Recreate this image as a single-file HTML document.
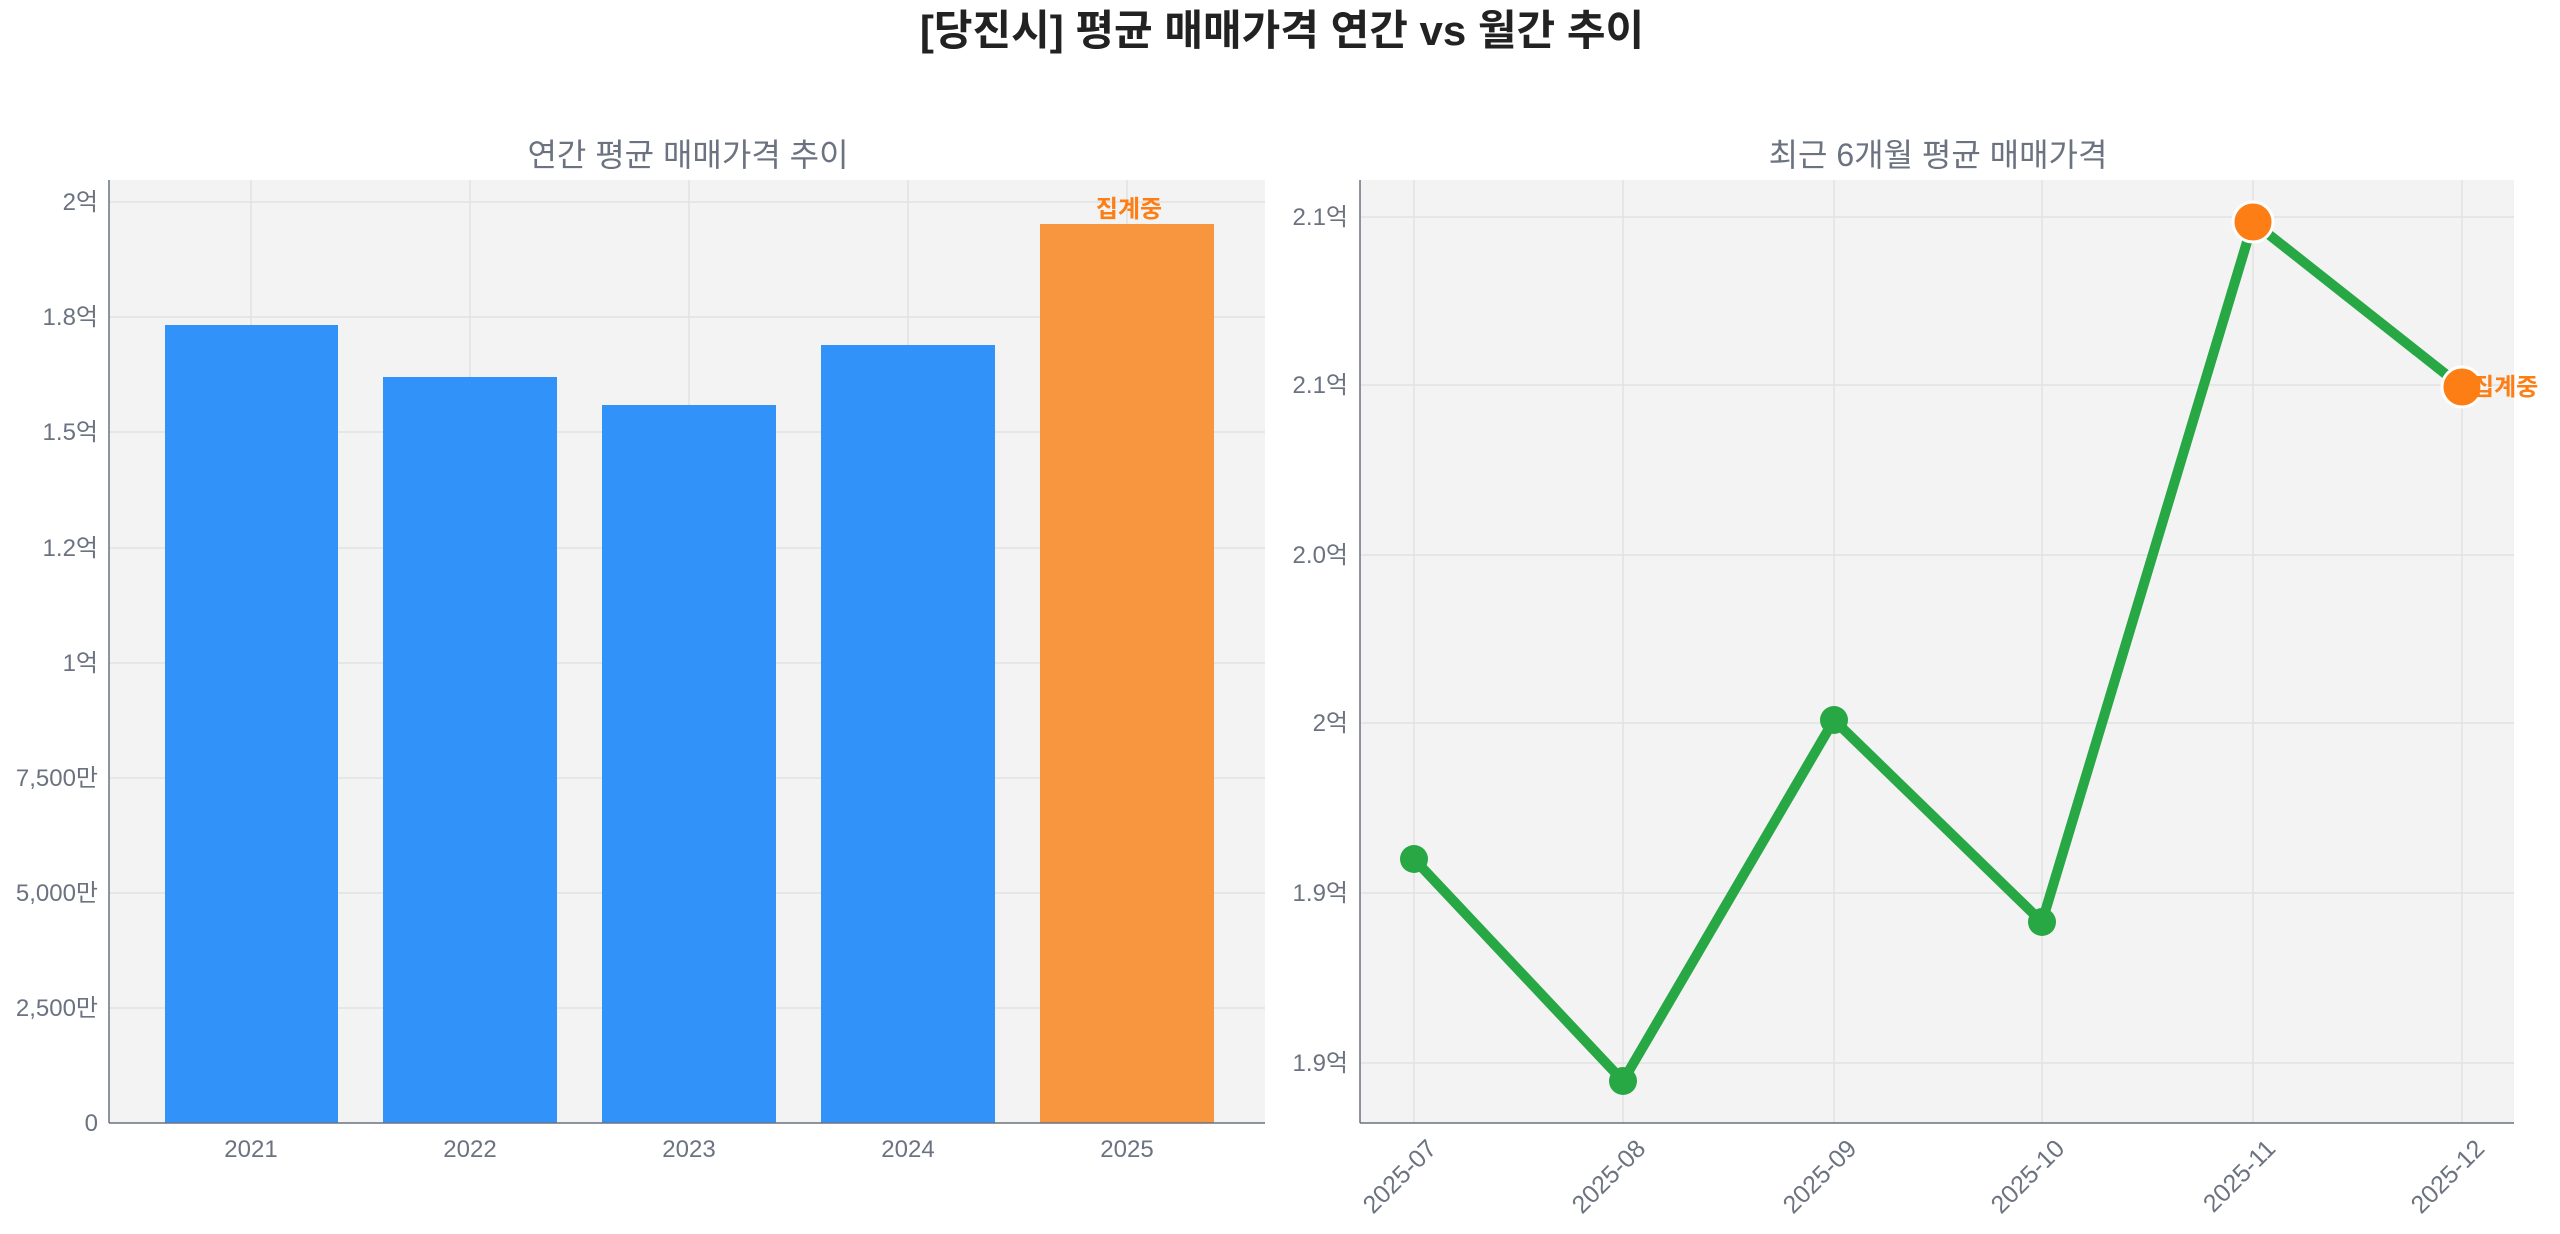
<!DOCTYPE html>
<html><head><meta charset="utf-8"><style>
html,body{margin:0;padding:0;background:#fff;}
svg{display:block;font-family:"Liberation Sans","Noto Sans CJK KR",sans-serif;}
</style></head><body>
<svg width="2560" height="1234" viewBox="0 0 2560 1234" xmlns="http://www.w3.org/2000/svg">
<text x="1282" y="45" text-anchor="middle" font-size="42" font-weight="bold" fill="#222">[당진시] 평균 매매가격 연간 vs 월간 추이</text>
<!-- Left panel -->
<text x="688" y="166" text-anchor="middle" font-size="32" fill="#6b7280">연간 평균 매매가격 추이</text>
<rect x="109" y="180" width="1156" height="943" fill="#f3f3f3"/>
<g stroke="#e2e2e2" stroke-width="1.5">
<line x1="109" x2="1265" y1="1008" y2="1008"/><line x1="109" x2="1265" y1="893" y2="893"/>
<line x1="109" x2="1265" y1="778" y2="778"/><line x1="109" x2="1265" y1="663" y2="663"/>
<line x1="109" x2="1265" y1="548" y2="548"/><line x1="109" x2="1265" y1="432" y2="432"/>
<line x1="109" x2="1265" y1="317" y2="317"/><line x1="109" x2="1265" y1="202" y2="202"/>
<line y1="180" y2="1123" x1="251" x2="251"/><line y1="180" y2="1123" x1="470" x2="470"/>
<line y1="180" y2="1123" x1="689" x2="689"/><line y1="180" y2="1123" x1="908" x2="908"/>
<line y1="180" y2="1123" x1="1127" x2="1127"/>
</g>
<g fill="#3193fa">
<rect x="165" y="325" width="173" height="798"/>
<rect x="383" y="377" width="174" height="746"/>
<rect x="602" y="405" width="174" height="718"/>
<rect x="821" y="345" width="174" height="778"/>
</g>
<rect x="1040" y="224" width="174" height="899" fill="#f8963f"/>
<text x="1129" y="217" text-anchor="middle" font-size="24" font-weight="bold" fill="#fd7e14">집계중</text>
<g stroke="#6b7280" stroke-width="1.5"><line x1="109" y1="180" x2="109" y2="1123"/><line x1="109" y1="1123" x2="1265" y2="1123"/></g>
<g font-size="24" fill="#6b7280" text-anchor="end">
<text x="98" y="1131">0</text><text x="98" y="1016">2,500만</text><text x="98" y="901">5,000만</text>
<text x="98" y="786">7,500만</text><text x="98" y="671">1억</text><text x="98" y="556">1.2억</text>
<text x="98" y="440">1.5억</text><text x="98" y="325">1.8억</text><text x="98" y="210">2억</text>
</g>
<g font-size="24" fill="#6b7280" text-anchor="middle">
<text x="251" y="1157">2021</text><text x="470" y="1157">2022</text><text x="689" y="1157">2023</text>
<text x="908" y="1157">2024</text><text x="1127" y="1157">2025</text>
</g>
<!-- Right panel -->
<text x="1938" y="166" text-anchor="middle" font-size="32" fill="#6b7280">최근 6개월 평균 매매가격</text>
<rect x="1360" y="180" width="1154" height="943" fill="#f3f3f3"/>
<g stroke="#e2e2e2" stroke-width="1.5">
<line x1="1360" x2="2514" y1="217" y2="217"/><line x1="1360" x2="2514" y1="385" y2="385"/>
<line x1="1360" x2="2514" y1="555" y2="555"/><line x1="1360" x2="2514" y1="723" y2="723"/>
<line x1="1360" x2="2514" y1="893" y2="893"/><line x1="1360" x2="2514" y1="1063" y2="1063"/>
<line y1="180" y2="1123" x1="1414" x2="1414"/><line y1="180" y2="1123" x1="1623" x2="1623"/>
<line y1="180" y2="1123" x1="1834" x2="1834"/><line y1="180" y2="1123" x1="2042" x2="2042"/>
<line y1="180" y2="1123" x1="2253" x2="2253"/><line y1="180" y2="1123" x1="2462" x2="2462"/>
</g>
<polyline points="1414,859 1623,1081 1834,720 2042,922 2253,222 2462,387" fill="none" stroke="#28a745" stroke-width="10" stroke-linejoin="round"/>
<g fill="#28a745">
<circle cx="1414" cy="859" r="14"/><circle cx="1623" cy="1081" r="14"/>
<circle cx="1834" cy="720" r="14"/><circle cx="2042" cy="922" r="14"/>
</g>
<g fill="#fd7e14" stroke="#fff" stroke-width="3">
<circle cx="2253" cy="222" r="20"/><circle cx="2462" cy="387" r="20"/>
</g>
<text x="2472" y="395" font-size="24" font-weight="bold" fill="#fd7e14">집계중</text>
<g stroke="#6b7280" stroke-width="1.5"><line x1="1360" y1="180" x2="1360" y2="1123"/><line x1="1360" y1="1123" x2="2514" y2="1123"/></g>
<g font-size="24" fill="#6b7280" text-anchor="end">
<text x="1348" y="225">2.1억</text><text x="1348" y="393">2.1억</text><text x="1348" y="563">2.0억</text>
<text x="1348" y="731">2억</text><text x="1348" y="901">1.9억</text><text x="1348" y="1071">1.9억</text>
</g>
<g font-size="25" fill="#6b7280" text-anchor="end">
<text transform="translate(1438,1150) rotate(-45)">2025-07</text>
<text transform="translate(1647,1150) rotate(-45)">2025-08</text>
<text transform="translate(1858,1150) rotate(-45)">2025-09</text>
<text transform="translate(2066,1150) rotate(-45)">2025-10</text>
<text transform="translate(2277,1150) rotate(-45)">2025-11</text>
<text transform="translate(2486,1150) rotate(-45)">2025-12</text>
</g>
</svg>
</body></html>
